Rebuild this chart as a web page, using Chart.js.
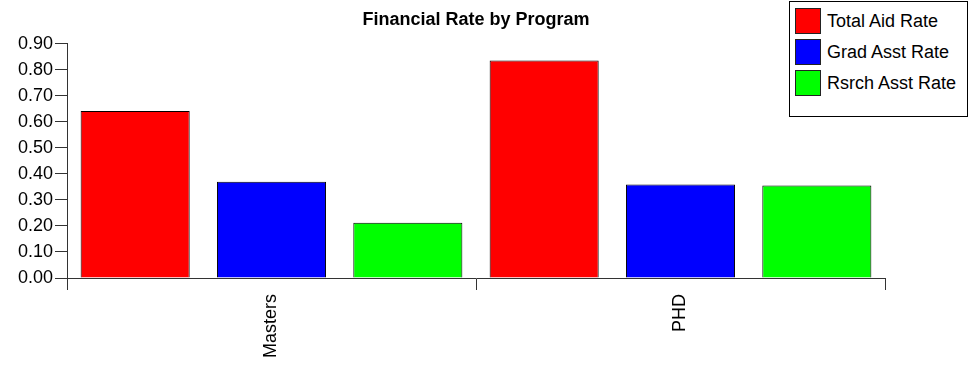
<!DOCTYPE html>
<html lang="en">
<head>
    <meta charset="UTF-8">
    <title>Financial Rate by Program</title>
    <style>
        body {
            margin: 0;
            background: #fff;
            font-family: "Liberation Sans", Arial, sans-serif;
        }
        #wrap {
            position: relative;
            width: 975px;
            height: 371px;
        }
        /* legend box in the top right corner */
        #legend {
            position: absolute;
            left: 789px;
            top: 1px;
            width: 179px;
            height: 116px;
            border: 1px solid #000;
            box-sizing: border-box;
            background: #fff;
        }
        .item {
            position: absolute;
            left: 5px;
            height: 26px;
            line-height: 26px;
            font-size: 18px;
            color: #000;
            white-space: nowrap;
        }
        .swatch {
            display: inline-block;
            width: 26px;
            height: 26px;
            border: 1px solid #222;
            box-sizing: border-box;
            vertical-align: top;
            margin-right: 6px;
        }
    </style>
</head>
<body>
    <div id="wrap">
        <canvas id="myChart" width="975" height="371"></canvas>
        <div id="legend"></div>
    </div>

    <script src="https://cdn.jsdelivr.net/npm/chart.js"></script>
    <script>
        // data
        const programs = ['Masters', 'PHD'];
        const totalAidRate = [0.641, 0.835];
        const gradAsstRate = [0.370, 0.359];
        const rsrchAsstRate = [0.212, 0.355];

        const seriesNames = ['Total Aid Rate', 'Grad Asst Rate', 'Rsrch Asst Rate'];
        const seriesColors = ['#ff0000', '#0000ff', '#00ff00'];

        const yMax = 0.9;
        const yStep = 0.1;

        // legend built by hand so it can sit over the plot
        const legend = document.getElementById('legend');
        seriesNames.forEach((name, i) => {
            const div = document.createElement('div');
            div.className = 'item';
            div.style.top = (6 + i * 31) + 'px';
            div.innerHTML = '<span class="swatch" style="background:' + seriesColors[i] + '"></span>' + name;
            legend.appendChild(div);
        });

        const axisColor = '#333';

        const ctx = document.getElementById('myChart').getContext('2d');
        new Chart(ctx, {
            type: 'bar',
            data: {
                labels: programs,
                datasets: [totalAidRate, gradAsstRate, rsrchAsstRate].map((vals, i) => ({
                    label: seriesNames[i],
                    data: vals,
                    backgroundColor: seriesColors[i],
                    borderColor: '#000',
                    borderWidth: 1,
                    barPercentage: 0.8,
                    categoryPercentage: 1.0
                }))
            },
            options: {
                responsive: false,
                animation: false,
                layout: {
                    padding: { left: 0, right: 90, top: 0, bottom: 0 }
                },
                plugins: {
                    legend: { display: false },
                    tooltip: { enabled: false },
                    title: {
                        display: true,
                        text: 'Financial Rate by Program',
                        fullSize: false,
                        color: '#000',
                        font: { family: 'Liberation Sans', size: 18, weight: 'bold' },
                        padding: { top: 9, bottom: 13 }
                    }
                },
                scales: {
                    x: {
                        grid: {
                            offset: true,
                            drawOnChartArea: false,
                            drawTicks: true,
                            tickLength: 12,
                            color: axisColor
                        },
                        border: { display: true, color: axisColor, width: 1 },
                        ticks: {
                            color: '#000',
                            minRotation: 90,
                            maxRotation: 90,
                            padding: 4,
                            font: { family: 'Liberation Sans', size: 18 }
                        },
                        afterFit: (scale) => { scale.height = 93; }
                    },
                    y: {
                        min: 0,
                        max: yMax,
                        grid: {
                            drawOnChartArea: false,
                            drawTicks: true,
                            tickLength: 12,
                            color: axisColor
                        },
                        border: { display: true, color: axisColor, width: 1 },
                        ticks: {
                            stepSize: yStep,
                            color: '#000',
                            padding: 2,
                            font: { family: 'Liberation Sans', size: 18 },
                            callback: (v) => Number(v).toFixed(2)
                        },
                        afterFit: (scale) => { scale.width = 67; }
                    }
                }
            }
        });
    </script>
</body>
</html>
